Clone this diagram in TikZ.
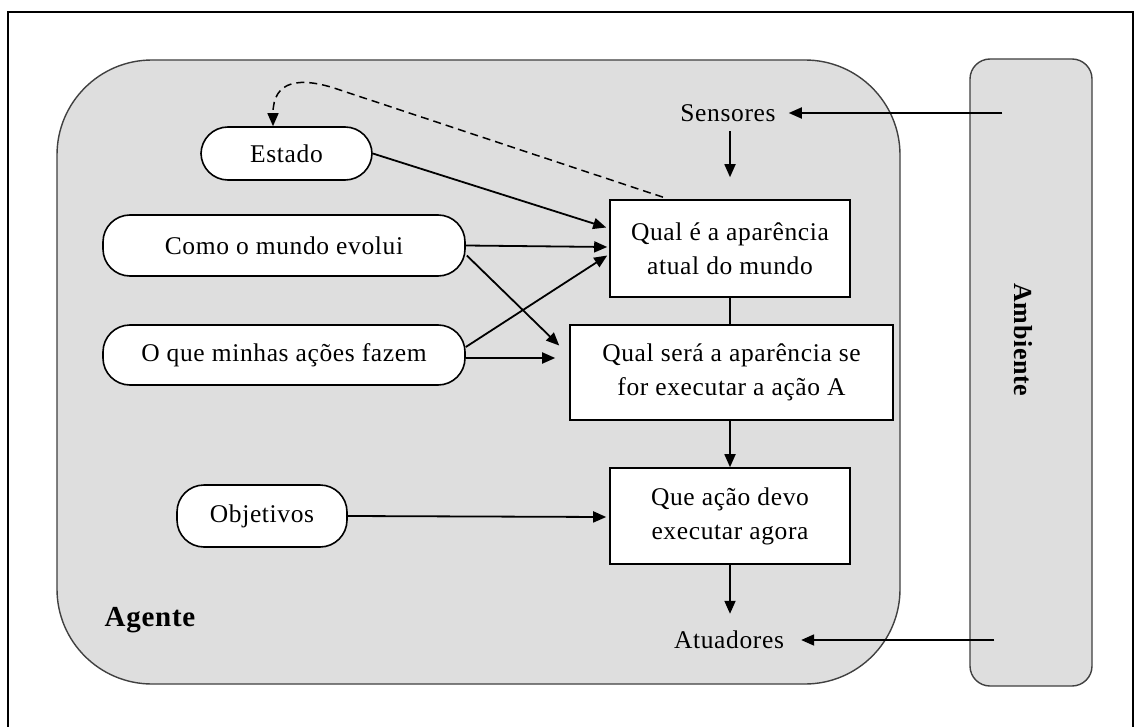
\documentclass[tikz,border=0pt]{standalone}
\usepackage{fontspec}
\setmainfont{Liberation Serif}[LetterSpace=2.5]
\usetikzlibrary{arrows.meta,calc}
\begin{document}
\begin{tikzpicture}[x=1pt,y=-1pt,
  txt/.style={font=\fontsize{25.5}{34}\selectfont},
  oval/.style={draw=black,line width=1.6pt,fill=white,rounded corners=27pt,inner sep=0pt,txt},
  box/.style={draw=black,line width=1.6pt,fill=white,inner sep=0pt,align=center,txt},
  lbl/.style={inner sep=0pt,txt},
  arr/.style={line width=1.8pt,-{Triangle[length=13pt,width=11pt]}},
  region/.style={draw=black!75,line width=1.4pt,fill=black!13,inner sep=0pt}]
\useasboundingbox (0,0) rectangle (1139,727);
\fill[white] (0,0) rectangle (1139,727);
\draw[line width=1.6pt] (8,12) rectangle (1133,760);
% containers
\node[region,rounded corners=95pt,minimum width=843pt,minimum height=624pt] (agent) at (478.5,372) {};
\node[region,rounded corners=20pt,minimum width=122pt,minimum height=627pt] (amb) at (1031,372.5) {};
\node[inner sep=0pt,rotate=-90,font=\fontsize{26}{30}\selectfont\bfseries] (ambl) at (1023,340) {Ambiente};
\node[inner sep=0pt,font=\fontsize{29}{30}\selectfont\bfseries] (agl) at (150,620) {Agente};
% left nodes
\node[oval,minimum width=171pt,minimum height=53pt] (est) at (286.5,153.5) {Estado};
\node[oval,minimum width=362pt,minimum height=61pt] (como) at (284,245.5) {Como o mundo evolui};
\node[oval,minimum width=362pt,minimum height=60pt] (oque) at (284,355) {O que minhas ações fazem};
\node[oval,minimum width=170pt,minimum height=62pt] (obj) at (262,516) {Objetivos};
% boxes
\node[box,minimum width=240pt,minimum height=97pt] (b1) at (730,248.5) {Qual é a aparência\\atual do mundo};
\node[box,minimum width=323pt,minimum height=95pt] (b2) at (731.5,372.5) {Qual será a aparência se\\for executar a ação A};
\node[box,minimum width=240pt,minimum height=96pt] (b3) at (730,516) {Que ação devo\\executar agora};
% sensors / actuators
\node[lbl] (sens) at (728,113) {Sensores};
\node[lbl] (atu) at (729,640) {Atuadores};
% connectors
\draw[arr] ($(amb.west |- sens)+(33,0)$) -- ($(sens.east)+(13,0)$);
\draw[arr] ($(amb.west |- atu)+(25,0)$) -- ($(atu.east)+(17,0)$);
\draw[arr] ($(b1.north)+(0,-68)$) -- ($(b1.north)+(0,-22)$);
\draw[line width=1.8pt] (b1.south) -- (b1.south |- b2.north);
\draw[arr] (b2.south -| b3.north) -- (b3.north);
\draw[arr] (b3.south) -- ($(b3.south)+(0,49)$);
\draw[arr] (est.east) -- ($(b1.west)+(-3,-21)$);
\draw[arr] (como.east) -- ($(b1.west)+(-2,-1.5)$);
\draw[arr] ($(como.east)+(1,10)$) -- ($(b2.west)+(-10,-27)$);
\draw[arr] ($(oque.east)+(0,-8)$) -- ($(b1.west)+(-2,7)$);
\draw[arr] ($(oque.east)+(0,3)$) -- ($(b2.west)+(-14,-14.5)$);
\draw[arr] (obj.east) -- ($(b3.west)+(-3,1)$);
\draw[arr,dash pattern=on 8pt off 5pt,line width=1.5pt] ($(b1.north)+(-67,-2)$) -- (340,90) .. controls (300,76) and (273,80) .. ($(est.north)+(-13.5,0)$);
\end{tikzpicture}
\end{document}
